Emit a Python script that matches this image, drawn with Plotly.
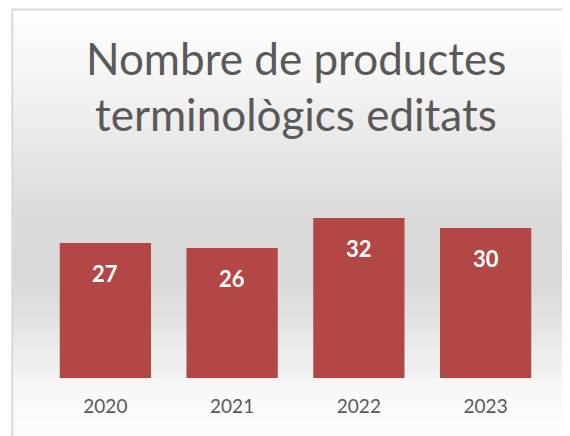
import plotly.graph_objects as go

# ---- data ----
years = ["2020", "2021", "2022", "2023"]
values = [27, 26, 32, 30]
title_lines = ["Nombre de productes", "terminològics editats"]

# ---- layout constants (screen coords are offset by the page's 8px body margin) ----
OFF = 8
W, H = 570, 436
# target plot area in screen pixels
SX0, SX1, SY0, SY1 = 42.2, 548.9, 203, 378
ML = SX0 - OFF
MR = W - (SX1 - OFF)
MT = SY0 - OFF
MB = H - (SY1 - OFF)
PW, PH = W - ML - MR, H - MT - MB
FONT = "Lato, Carlito, Calibri, sans-serif"
TXT = "#595959"


def sy(py):  # screen y -> paper y
    return (SY1 - py) / PH


def sx(px):  # screen x -> paper x
    return (px - SX0) / PW


fig = go.Figure()
fig.add_trace(go.Bar(
    x=years, y=values,
    marker=dict(color="#b34745", line=dict(width=0)),
    hoverinfo="skip",
))

# value labels inside the top of bars (x given as category index)
for i, v in enumerate(values):
    fig.add_annotation(x=i, y=v, xref="x", yref="y", text=f"<b>{v}</b>",
                       showarrow=False, yanchor="middle", yshift=-30,
                       font=dict(family=FONT, size=22, color="white"))

# background gradient (chart area)
stops = [(10, 255), (100, 241), (170, 227), (220, 218), (280, 217),
         (320, 226), (350, 236), (377, 242), (380, 247), (436, 252)]


def grey_at(py):
    for (y0, c0), (y1, c1) in zip(stops, stops[1:]):
        if y0 <= py <= y1:
            t = (py - y0) / (y1 - y0) if y1 > y0 else 0
            return round(c0 + (c1 - c0) * t)
    return stops[-1][1]


shapes = []
step = 2
py = 10
while py < H + 10:
    g = grey_at(py + step / 2)
    shapes.append(dict(type="rect", xref="paper", yref="paper",
                       x0=sx(13), x1=sx(W + 20),
                       y0=sy(py + step), y1=sy(py),
                       fillcolor=f"rgb({g},{g},{g})", line=dict(width=0),
                       layer="below"))
    py += step
# chart border
shapes.append(dict(type="rect", xref="paper", yref="paper",
                   x0=sx(12.5), x1=sx(W + 30),
                   y0=sy(H + 30), y1=sy(9.5),
                   fillcolor="rgba(0,0,0,0)", line=dict(color="#d9d9d9", width=2),
                   layer="above"))

# title (two lines)
for i, line in enumerate(title_lines):
    fig.add_annotation(x=sx(296), y=sy(58 + 56 * i), xref="paper", yref="paper",
                       text=line, showarrow=False, xanchor="center", yanchor="middle",
                       font=dict(family=FONT, size=44, color=TXT))

fig.update_layout(
    width=W, height=H,
    margin=dict(l=ML, r=MR, t=MT, b=MB, pad=0),
    paper_bgcolor="white", plot_bgcolor="rgba(0,0,0,0)",
    bargap=0.28, showlegend=False,
    shapes=shapes,
    xaxis=dict(type="category", range=[-0.5, len(years) - 0.5],
               showgrid=False, showline=False, zeroline=False, ticks="",
               tickfont=dict(family=FONT, size=19, color=TXT), ticklabelstandoff=15),
    yaxis=dict(range=[0, 35], visible=False, showgrid=False, zeroline=False),
)

fig.write_html("out.html")
